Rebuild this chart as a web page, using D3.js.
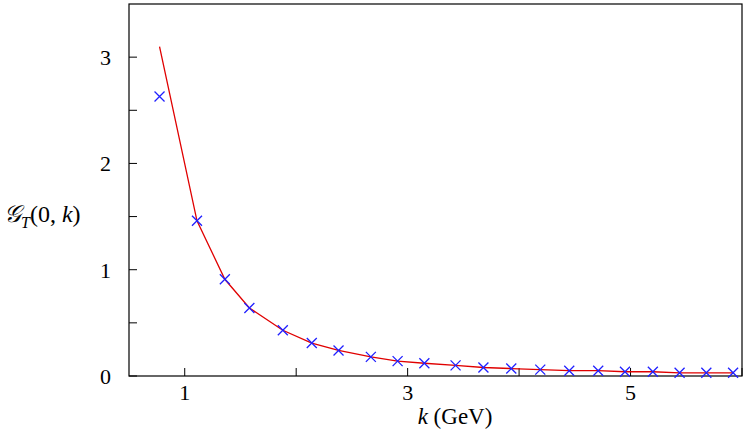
<!DOCTYPE html>
<html><head><meta charset="utf-8">
<script src="https://cdn.jsdelivr.net/npm/d3@7"></script>
<style>
body{margin:0;background:#fff}
svg text{font-family:'Liberation Serif','Times New Roman','DejaVu Serif',serif;fill:#000}
</style></head>
<body><svg id="c" width="747" height="433"></svg>
<script>
// data
var kVals = [0.774,1.11,1.36,1.58,1.88,2.14,2.38,2.67,2.91,3.15,3.43,3.68,3.93,4.19,4.45,4.71,4.95,5.2,5.44,5.68,5.92];
var gPoints = [2.63,1.46,0.91,0.64,0.43,0.31,0.24,0.18,0.14,0.12,0.10,0.08,0.07,0.06,0.05,0.05,0.04,0.04,0.03,0.03,0.03];
var gLine = [3.10,1.46,0.91,0.64,0.43,0.31,0.24,0.18,0.14,0.12,0.10,0.08,0.07,0.06,0.05,0.05,0.04,0.04,0.03,0.03,0.03];
var xTicks = [1,2,3,4,5,6];
var xLabels = [1,3,5];
var yTicks = [0,0.5,1,1.5,2,2.5,3];
var yLabels = [0,1,2,3];

var m = {l:129, r:742, t:4, b:376};
var svg = d3.select('#c');
var x = d3.scaleLinear().domain([0.5,6]).range([m.l,m.r]);
var y = d3.scaleLinear().domain([0,3.5]).range([m.b,m.t]);

svg.append('rect').attr('x',m.l).attr('y',m.t).attr('width',m.r-m.l).attr('height',m.b-m.t)
	.attr('fill','none').attr('stroke','#000').attr('stroke-width',1.2);

svg.selectAll('line.xt').data(xTicks).enter().append('line')
	.attr('x1',d=>x(d)).attr('x2',d=>x(d)).attr('y1',m.b).attr('y2',m.b-8)
	.attr('stroke','#000');
svg.selectAll('line.yt').data(yTicks).enter().append('line')
	.attr('y1',d=>y(d)).attr('y2',d=>y(d)).attr('x1',m.l).attr('x2',m.l+8)
	.attr('stroke','#000');

svg.selectAll('text.xl').data(xLabels).enter().append('text')
	.attr('x',d=>x(d)).attr('y',400).attr('text-anchor','middle')
	.style('font-size','22px').text(d=>d);
svg.selectAll('text.yl').data(yLabels).enter().append('text')
	.attr('x',m.l-18).attr('y',d=>y(d)+8).attr('text-anchor','end')
	.style('font-size','22px').text(d=>d);

svg.append('text').attr('x',455).attr('y',424).attr('text-anchor','middle').style('font-size','23px')
	.html('<tspan font-style="italic">k</tspan> (GeV)');
svg.append('text').attr('x',4).attr('y',222).style('font-size','24px')
	.html('<tspan font-style="italic">𝒢</tspan><tspan font-style="italic" font-size="16" dy="6">T</tspan><tspan dy="-6">(0, </tspan><tspan font-style="italic">k</tspan>)');

var line = d3.line().x((d,i)=>x(kVals[i])).y(d=>y(d));
svg.append('path').datum(gLine).attr('d',line).attr('fill','none').attr('stroke','#e00000').attr('stroke-width',1.3);

var s = 5;
var cr = svg.selectAll('g.p').data(gPoints).enter().append('g')
	.attr('transform',(d,i)=>'translate('+x(kVals[i])+','+y(d)+')');
cr.append('path').attr('d','M'+(-s)+','+(-s)+'L'+s+','+s+'M'+(-s)+','+s+'L'+s+','+(-s))
	.attr('stroke','#2020ff').attr('stroke-width',1.3);
</script></body></html>
